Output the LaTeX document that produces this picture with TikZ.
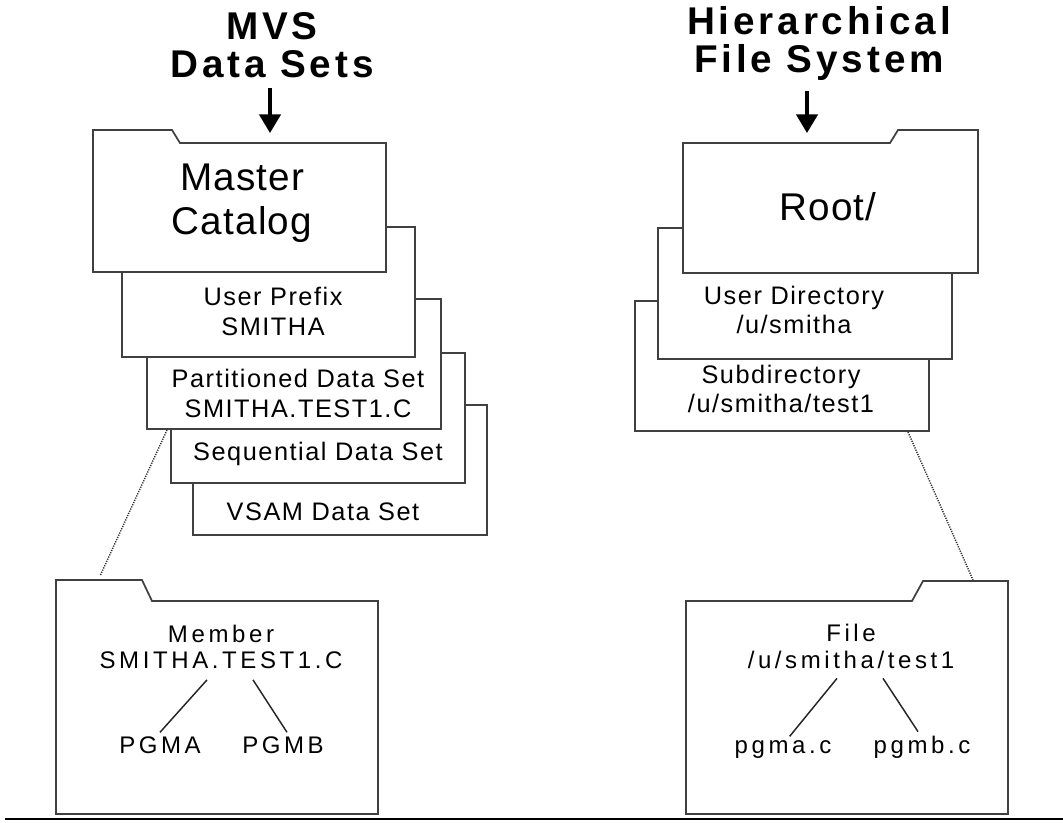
\documentclass[tikz,border=0pt]{standalone}
\usepackage{fontspec}
\usepackage{tikz}
\usetikzlibrary{arrows.meta}

\newfontfamily\titlefont[LetterSpace=10]{Liberation Sans}
\newfontfamily\bigfont[LetterSpace=3]{Liberation Sans}
\newfontfamily\labelfont[LetterSpace=6]{Liberation Sans}
\newfontfamily\leaffont[LetterSpace=15]{Liberation Sans}

\tikzset{
  folder/.style={draw=black!75, line width=1.3pt, fill=white, line join=miter},
  title/.style={align=center, inner sep=0.75pt, font=\titlefont\bfseries\fontsize{29}{28.5}\selectfont},
  biglabel/.style={align=center, inner sep=0.75pt, font=\bigfont\fontsize{29}{33}\selectfont},
  setlabel/.style={align=center, inner sep=0.75pt, font=\labelfont\fontsize{19}{22}\selectfont},
  leaflabel/.style={align=center, font=\leaffont\fontsize{18}{20}\selectfont},
  flowarrow/.style={line width=2.6pt, shorten <=7pt, -{Triangle[width=16pt,length=14pt]}},
  zoomline/.style={draw=black!80, line width=1.1pt, dash pattern=on 0.9pt off 0.9pt},
  treeline/.style={draw=black!85, line width=1.1pt},
}

\begin{document}
\begin{tikzpicture}[x=0.75pt,y=0.75pt,yscale=-1,xscale=1]
\useasboundingbox (0,0) rectangle (1063,822);

%Shape: Stack MVS
\draw [folder] (193,405) rectangle (487,535);
\draw [folder] (171,353) rectangle (465,483);
\draw [folder] (147,299) rectangle (441,429);
\draw [folder] (122,227) rectangle (415,357);
%Shape: Folder Master
\draw [folder] (93,130) -- (172,130) -- (180,143) -- (386,143) -- (386,272) -- (93,272) -- cycle;

%Shape: Stack HFS
\draw [folder] (635,301) rectangle (929,431);
\draw [folder] (658,228) rectangle (952,359);
%Shape: Folder Root
\draw [folder] (683,143) -- (890,143) -- (898,130) -- (978,130) -- (978,273) -- (683,273) -- cycle;

%Shape: Folder Member
\draw [folder] (56,580) -- (142,580) -- (152,601) -- (378,601) -- (378,814) -- (56,814) -- cycle;
%Shape: Folder File
\draw [folder] (686,601) -- (912,601) -- (923,581) -- (1008,581) -- (1008,814) -- (686,814) -- cycle;

%Straight Lines
\draw [line width=1.5pt] (5,819) -- (1063,819);

% Text Node
\draw (272,45) node [title] (mvs) {MVS\\Data Sets};
% Text Node
\draw (819,43.5) node [title] (hfs) {Hierarchical\\File System};
% Text Node
\draw (242,203) node [biglabel] (master) {Master\\Catalog};
% Text Node
\draw (828,207) node [biglabel] (root) {Root/};
% Text Node
\draw (273,311.5) node [setlabel] (prefix) {User Prefix\\SMITHA};
% Text Node
\draw (298,393.5) node [setlabel] (pds) {Partitioned Data Set\\SMITHA.TEST1.C};
% Text Node
\draw (318,454) node [setlabel] (seq) {Sequential Data Set};
% Text Node
\draw (323,511.5) node [setlabel] (vsam) {VSAM Data Set};
% Text Node
\draw (794,310) node [setlabel] (userdir) {User Directory\\/u/smitha};
% Text Node
\draw (781,389) node [setlabel] (subdir) {Subdirectory\\/u/smitha/test1};
% Text Node
\draw (221,647) node [leaflabel] (member) {Member\\SMITHA.TEST1.C};
% Text Node
\draw (160,745.5) node [leaflabel] (pgma) {PGMA};
% Text Node
\draw (283,745.5) node [leaflabel] (pgmb) {PGMB};
% Text Node
\draw (851,646.5) node [leaflabel] (file) {File\\/u/smitha/test1};
% Text Node
\draw (783,750) node [leaflabel] (pgmac) {pgma.c};
% Text Node
\draw (922,747.5) node [leaflabel] (pgmbc) {pgmb.c};

\coordinate (mvs-in) at (270,133);
\coordinate (hfs-in) at (807,133);
\coordinate (pds-foot) at (167,430);
\coordinate (member-tab) at (100,576);
\coordinate (subdir-foot) at (908,432);
\coordinate (file-tab) at (973,580);

%Straight Lines
\draw [flowarrow] (mvs.south -| mvs-in) -- (mvs-in);
\draw [flowarrow] (hfs.south -| hfs-in) -- (hfs-in);
%Straight Lines
\draw [zoomline] (pds-foot) -- (member-tab);
\draw [zoomline] (subdir-foot) -- (file-tab);
%Straight Lines
\draw [treeline] (member.south) ++(-14,6) -- (pgma.north);
\draw [treeline] (member.south) ++(32,6) -- ([xshift=3pt]pgmb.north);
\draw [treeline] (file.south) ++(-14,5) -- ([xshift=5pt]pgmac.north);
\draw [treeline] (file.south) ++(32,5) -- ([xshift=-3pt]pgmbc.north);

\end{tikzpicture}
\end{document}
